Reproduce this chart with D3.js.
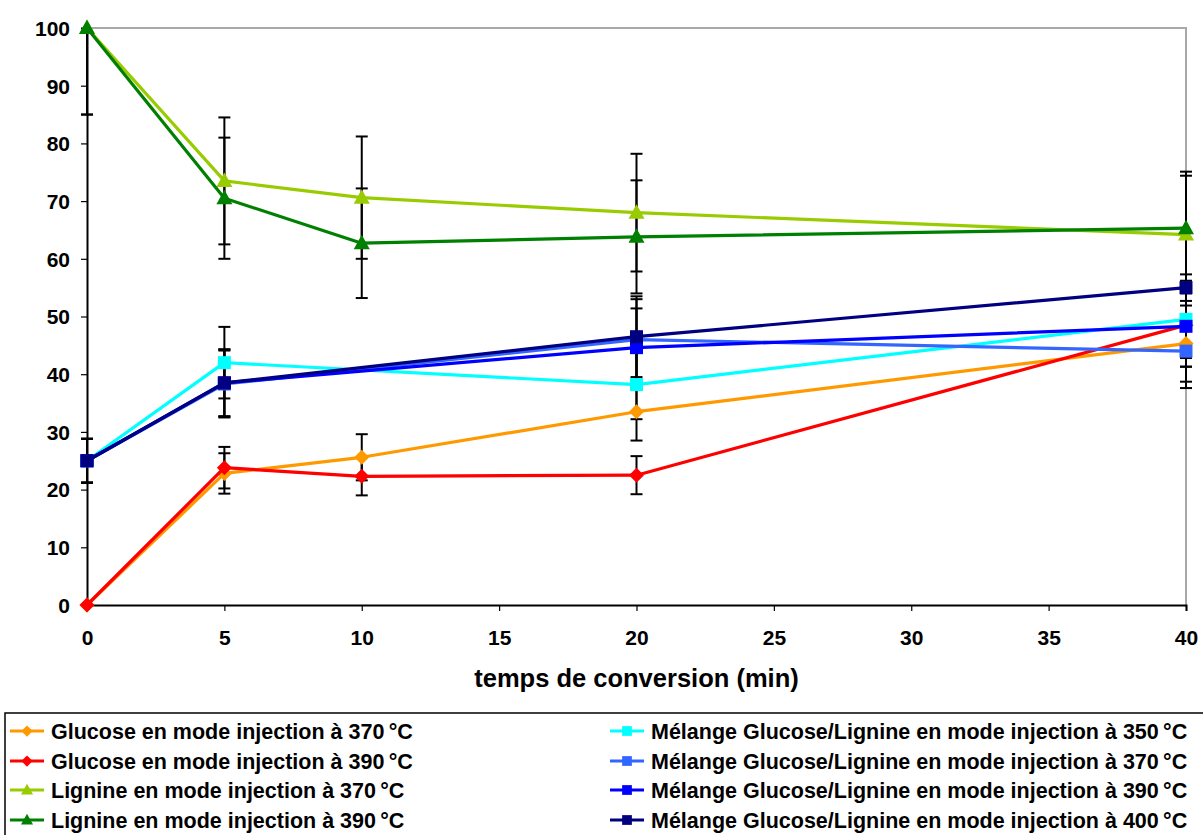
<!DOCTYPE html>
<html><head><meta charset="utf-8">
<script src="https://cdn.jsdelivr.net/npm/d3@7/dist/d3.min.js"></script>
<style>
body{margin:0;background:#fff;}
svg text{font-family:"Liberation Sans",Arial,sans-serif;font-weight:bold;fill:#000;}
</style></head><body>
<svg id="chart" width="1203" height="835"></svg>
<script>
// ---- data ----
const xTicks = [0,5,10,15,20,25,30,35,40];
const yTicks = [0,10,20,30,40,50,60,70,80,90,100];
const timesGL = [0,5,10,20,40];
const timesMix = [0,5,20,40];

const seriesNames = [
  "Glucose en mode injection à 370\u2009°C",
  "Glucose en mode injection à 390\u2009°C",
  "Lignine en mode injection à 370\u2009°C",
  "Lignine en mode injection à 390\u2009°C",
  "Mélange Glucose/Lignine en mode injection à 350\u2009°C",
  "Mélange Glucose/Lignine en mode injection à 370\u2009°C",
  "Mélange Glucose/Lignine en mode injection à 390\u2009°C",
  "Mélange Glucose/Lignine en mode injection à 400\u2009°C"
];
const seriesColors = ["#FF9900","#FF0000","#99CC00","#008000","#00FFFF","#3366FF","#0000FF","#000080"];
const seriesMarkers = ["diamond","diamond","triangle","triangle","square","square","square","square"];

const glucose370 = [0, 22.8, 25.6, 33.5, 45.3];
const glucose390 = [0, 23.8, 22.3, 22.5, 48.5];
const lignine370 = [100, 73.5, 70.6, 68.0, 64.2];
const lignine390 = [100, 70.5, 62.7, 63.8, 65.3];
const mix350 = [25, 42.0, 38.2, 49.5];
const mix370 = [25, 38.3, 46.0, 44.0];
const mix390 = [25, 38.5, 44.6, 48.3];
const mix400 = [25, 38.5, 46.5, 55.0];

const errGlucose370 = [0, 3.5, 4.0, 5.0, 6.6];
const errGlucose390 = [0, 3.6, 3.3, 3.3, 7.2];
const errLignine370 = [15, 11.0, 10.6, 10.2, 10.2];
const errLignine390 = [15, 10.5, 9.5, 9.8, 9.8];
const errMix350 = [3.8, 6.2, 6.0, 6.7];
const errMix370 = [3.8, 5.8, 7.0, 6.4];
const errMix390 = [3.8, 5.8, 6.8, 7.0];
const errMix400 = [3.8, 5.8, 7.0, 2.3];

const seriesValues = [glucose370, glucose390, lignine370, lignine390, mix350, mix370, mix390, mix400];
const seriesErrors = [errGlucose370, errGlucose390, errLignine370, errLignine390, errMix350, errMix370, errMix390, errMix400];
const seriesTimes = [timesGL, timesGL, timesGL, timesGL, timesMix, timesMix, timesMix, timesMix];

// ---- layout ----
const svg = d3.select("#chart");
const L = 87, R = 1186, T = 28, B = 605;
const x = d3.scaleLinear().domain([0,40]).range([L,R]);
const y = d3.scaleLinear().domain([0,100]).range([B,T]);

const series = seriesNames.map((name,i)=>({
  name, color: seriesColors[i], marker: seriesMarkers[i],
  pts: seriesTimes[i].map((t,j)=>({t, v: seriesValues[i][j], e: seriesErrors[i][j]}))
}));

// plot border (top/right grey)
svg.append("path").attr("d",`M${L},${T}H${R}V${B}`).attr("fill","none").attr("stroke","#a8a8a8").attr("stroke-width",2);

// axes
const yAxis = svg.append("g").attr("transform",`translate(${L},0)`)
  .call(d3.axisLeft(y).tickValues(yTicks).tickSize(6).tickPadding(11));
const xAxis = svg.append("g").attr("transform",`translate(0,${B})`)
  .call(d3.axisBottom(x).tickValues(xTicks).tickSize(6).tickPadding(19));
[yAxis,xAxis].forEach(g=>{
  g.select(".domain").attr("stroke","#000").attr("stroke-width",2);
  g.selectAll(".tick line").attr("stroke","#000").attr("stroke-width",1.2);
  g.selectAll("text").style("font-size","21px").style("font-family","'Liberation Sans',Arial,sans-serif").style("font-weight","bold");
});
yAxis.selectAll("text").attr("dy","0.35em");

svg.append("text").attr("x",(L+R)/2).attr("y",687).attr("text-anchor","middle")
  .style("font-size","25.5px").text("temps de conversion (min)");

// clip (vertical only)
svg.append("clipPath").attr("id","clip").append("rect").attr("x",0).attr("y",T).attr("width",1203).attr("height",B-T);
const plot = svg.append("g").attr("clip-path","url(#clip)");

// error bars
const eb = plot.append("g");
series.forEach(s=>{
  s.pts.forEach(p=>{
    if(!p.e) return;
    const cx = x(p.t), y1 = y(p.v+p.e), y2 = y(p.v-p.e);
    eb.append("line").attr("x1",cx).attr("x2",cx).attr("y1",y1).attr("y2",y2).attr("stroke","#000").attr("stroke-width",2);
    [y1,y2].forEach(yy=>eb.append("line").attr("x1",cx-6).attr("x2",cx+6).attr("y1",yy).attr("y2",yy).attr("stroke","#000").attr("stroke-width",2));
  });
});

const symbolPath = m => {
  if(m==="square") return "M-6.5,-6.5H6.5V6.5H-6.5Z";
  if(m==="diamond") return "M0,-7.5L7.5,0L0,7.5L-7.5,0Z";
  return "M0,-8.5L8,6L-8,6Z";
};

const line = d3.line().x(d=>x(d.t)).y(d=>y(d.v));
series.forEach(s=>{
  const g = svg.append("g");
  g.append("path").datum(s.pts).attr("d",line).attr("fill","none").attr("stroke",s.color).attr("stroke-width",3.2).attr("stroke-linejoin","round");
  g.selectAll("path.m").data(s.pts).join("path").attr("class","m")
    .attr("transform",d=>`translate(${x(d.t)},${y(d.v)})`)
    .attr("d",symbolPath(s.marker)).attr("fill",s.color);
});

// legend
svg.append("rect").attr("x",5).attr("y",713).attr("width",1220).attr("height",140)
  .attr("fill","none").attr("stroke","#000").attr("stroke-width",1.5);
const rowY = [731,761,790,820];
series.forEach((s,i)=>{
  const col = i<4 ? 0 : 1, row = i%4;
  const lx = col===0 ? 10 : 610, cy = rowY[row];
  const g = svg.append("g");
  g.append("line").attr("x1",lx).attr("x2",lx+34).attr("y1",cy).attr("y2",cy).attr("stroke",s.color).attr("stroke-width",3);
  g.append("path").attr("transform",`translate(${lx+17},${cy}) scale(0.75)`).attr("d",symbolPath(s.marker)).attr("fill",s.color);
  g.append("text").attr("x",lx+41).attr("y",cy).attr("dy","0.36em").style("font-size","21.5px").text(s.name);
});
</script></body></html>
